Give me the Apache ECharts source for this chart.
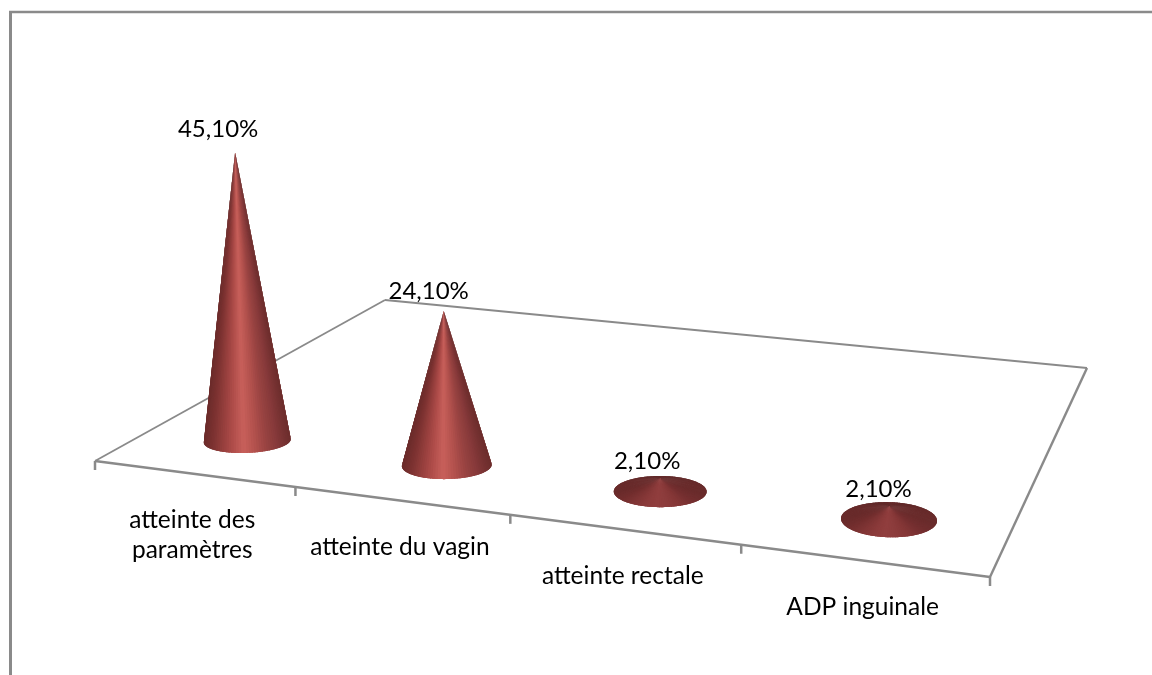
<!DOCTYPE html>
<html><head><meta charset="utf-8">
<style>html,body{margin:0;padding:0;background:#fff}#c{width:1152px;height:675px}</style>
<script src="https://cdn.jsdelivr.net/npm/echarts@6/dist/echarts.min.js"></script>
</head><body><div id="c"></div>
<script>
const categories = ['atteinte des\nparamètres', 'atteinte du vagin', 'atteinte rectale', 'ADP inguinale'];
const values = [45.1, 24.1, 2.1, 2.1];

// Floor of the 3D scene (front-left, front-right, back-right, back-left) in page pixels
const FLOOR = [[95,461],[990,577],[1087,368],[385,300]];
const [p0,p1,p2,p3] = FLOOR;
const dx1=p1[0]-p2[0], dx2=p3[0]-p2[0], sx=p0[0]-p1[0]+p2[0]-p3[0];
const dy1=p1[1]-p2[1], dy2=p3[1]-p2[1], sy=p0[1]-p1[1]+p2[1]-p3[1];
const den=dx1*dy2-dx2*dy1;
const hg=(sx*dy2-dx2*sy)/den, hh=(dx1*sy-sx*dy1)/den;
const ha=p1[0]-p0[0]+hg*p1[0], hb=p3[0]-p0[0]+hh*p3[0];
const hd=p1[1]-p0[1]+hg*p1[1], he=p3[1]-p0[1]+hh*p3[1];
function project(u,v){const w=hg*u+hh*v+1;return [(ha*u+hb*v+p0[0])/w,(hd*u+he*v+p0[1])/w];}

const FONT='Lato, "Open Sans", sans-serif';
const TALL=['#6e2e2d','#86393a','#9a4442','#b4524e','#c8605b','#b04d4a','#963f3d','#7c3231','#6a2b2a'];
const FLAT_FRONT=['#6a2c2c','#762f30','#843737','#8c3c3c','#913e3e','#8b3b3b','#813636','#752f2f','#692b2b'];
const FLAT_BACK=['#6a2c2c','#662a2a','#622929','#602828','#652a2a','#602828','#622929','#662a2a','#692b2b'];
const DEPTH=0.16, STEPS=120;

function renderFloor(params, api){
  const n=categories.length, ch=[];
  const line=(a,b,w)=>({type:'line',shape:{x1:a[0],y1:a[1],x2:b[0],y2:b[1]},style:{stroke:'#8a8a8a',lineWidth:w}});
  const c=[project(0,0),project(1,0),project(1,1),project(0,1)];
  ch.push(line(c[0],c[1],2.4),line(c[1],c[2],2.4),line(c[2],c[3],1.8),line(c[3],c[0],1.8));
  for(let i=0;i<=n;i++){const t=project(i/n,0);ch.push(line(t,[t[0],t[1]+9],2.5));}
  categories.forEach((name,i)=>{
    const a=project(i/n,0), b=project((i+1)/n,0);
    ch.push({type:'text',style:{text:name,x:(a[0]+b[0])/2-3,y:(a[1]+b[1])/2+31,align:'center',verticalAlign:'top',
      font:'24.5px '+FONT,fill:'#000',lineHeight:30}});
  });
  return {type:'group',children:ch};
}

function renderCone(params, api){
  const i=params.dataIndex, n=categories.length;
  const val=api.value(1);
  const h=api.size([0,val])[1];
  const cen=project((i+0.5)/n,DEPTH);
  const rx=41.8+0.007*cen[0], ry=9.9+0.0086*cen[0];
  const tilt=(cen[0]-640)*0.0062*Math.PI/180;
  const tip=[cen[0]+(cen[0]-620)*h*0.000113, cen[1]-h];
  const at=th=>{ // th measured so that sin(th)>0 is the front of the base
    const ex=rx*Math.cos(th), ey=ry*Math.sin(th);
    return [cen[0]+ex*Math.cos(tilt)-ey*Math.sin(tilt), cen[1]+ex*Math.sin(tilt)+ey*Math.cos(tilt)];
  };
  const flat=h<30, ch=[];
  const from=flat?0:-0.25, to=flat?2*Math.PI:Math.PI+0.25, cnt=flat?STEPS:STEPS/2;
  const step=(to-from)/cnt;
  for(let k=cnt-1;k>=0;k--){
    // each slice overlaps the next one already painted, so no seams appear between slices
    const a=from+step*k, b=a+step*(k===cnt-1&&!flat?1:2.5), mid=a+step/2;
    const f=(Math.cos(mid)+1)/2, front=Math.sin(mid)>0;
    const pal=flat?(front?FLAT_FRONT:FLAT_BACK):TALL;
    const col=echarts.color.lerp(1-f,pal);
    const pts=[tip];
    const sub=4;
    for(let s=0;s<=sub;s++) pts.push(at(a+(b-a)*s/sub));
    ch.push({type:'polygon',shape:{points:pts},style:{fill:col}});
  }
  ch.push({type:'text',style:{text:val.toFixed(2).replace('.',',')+'%',x:tip[0]-17+0.0095*(cen[0]-248),y:tip[1]-17-h*0.02,align:'center',verticalAlign:'middle',
    font:'24px '+FONT,fill:'#000'}});
  return {type:'group',children:ch};
}

const chart=echarts.init(document.getElementById('c'),null,{renderer:'canvas'});
chart.setOption({
  animation:false,
  backgroundColor:'#fff',
  grid:{left:95,width:895,top:100,height:320},
  xAxis:{type:'category',data:categories,show:false},
  yAxis:{type:'value',min:0,max:50,show:false},
  graphic:[
    {type:'line',shape:{x1:9,y1:12,x2:1152,y2:12},style:{stroke:'#8a8a8a',lineWidth:2.4}},
    {type:'line',shape:{x1:10.5,y1:11,x2:10.5,y2:675},style:{stroke:'#8a8a8a',lineWidth:3}}
  ],
  series:[
    {type:'custom',name:'floor',data:[[categories[0],0]],renderItem:renderFloor,z:1,silent:true,clip:false,encode:{x:0,y:1}},
    {type:'custom',name:'cones',data:categories.map((c,i)=>[c,values[i]]),renderItem:renderCone,z:2,clip:false,encode:{x:0,y:1}}
  ]
});
</script></body></html>
